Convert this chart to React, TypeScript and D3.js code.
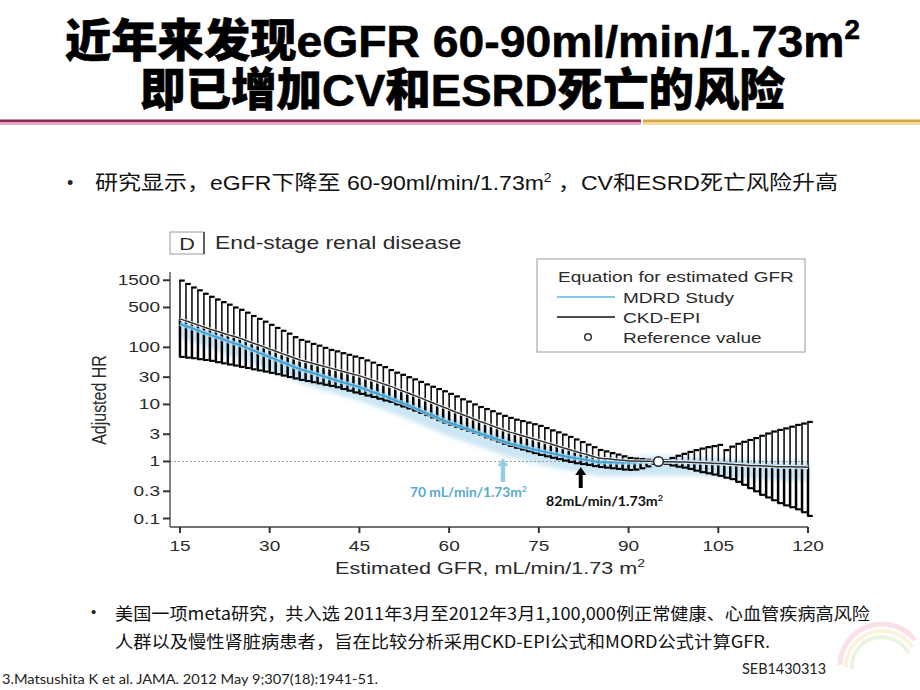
import React from "react";
import * as d3 from "d3";

// ---------- data ----------
const gfrValues = [
  15, 16, 17, 18, 19, 20, 21, 22, 23, 24, 25, 26, 27, 28, 29, 30, 31, 32, 33, 34,
  35, 36, 37, 38, 39, 40, 41, 42, 43, 44, 45, 46, 47, 48, 49, 50, 51, 52, 53, 54,
  55, 56, 57, 58, 59, 60, 61, 62, 63, 64, 65, 66, 67, 68, 69, 70, 71, 72, 73, 74,
  75, 76, 77, 78, 79, 80, 81, 82, 83, 84, 85, 86, 87, 88, 89, 90, 91, 92, 93, 94,
  95, 96, 97, 98, 99, 100, 101, 102, 103, 104, 105, 106, 107, 108, 109, 110, 111,
  112, 113, 114, 115, 116, 117, 118, 119, 120,
];

// CKD-EPI adjusted HR
const hrCkdEpi = [
  316, 291, 268, 247, 227, 209, 194, 180, 167, 156,
  145, 132, 121, 111, 102, 93, 85.5, 78.3, 71.8, 65.8,
  60.3, 56.5, 53.0, 49.7, 46.6, 43.7, 40.9, 38.4, 36.0, 33.7,
  31.6, 29.2, 26.9, 24.8, 22.9, 21.1, 19.3, 17.5, 16.0, 14.6,
  13.3, 12.0, 10.9, 9.9, 9.0, 8.2, 7.4, 6.8, 6.2, 5.6,
  5.1, 4.7, 4.3, 3.9, 3.6, 3.3, 3.09, 2.88, 2.69, 2.51,
  2.34, 2.18, 2.02, 1.88, 1.75, 1.62, 1.51, 1.41, 1.32, 1.23,
  1.15, 1.12, 1.10, 1.07, 1.05, 1.02, 1.02, 1.01, 1.01, 1.0,
  1.0, 0.99, 0.99, 0.98, 0.98, 0.97, 0.96, 0.95, 0.94, 0.93,
  0.92, 0.91, 0.89, 0.88, 0.87, 0.85, 0.84, 0.84, 0.83, 0.82,
  0.81, 0.81, 0.81, 0.8, 0.8, 0.79,
];

// MDRD Study adjusted HR
const hrMdrd = [
  257, 236, 217, 199, 182, 166, 153, 141, 129, 119,
  110, 99.5, 90.4, 82.0, 74.5, 67.6, 61.4, 55.7, 50.6, 45.9,
  41.7, 38.7, 36.0, 33.4, 31.0, 28.8, 26.8, 24.9, 23.1, 21.5,
  20.0, 18.3, 16.8, 15.5, 14.2, 13.0, 11.8, 10.8, 9.8, 8.9,
  8.0, 7.2, 6.6, 5.9, 5.3, 4.81, 4.43, 4.06, 3.74, 3.44,
  3.16, 2.91, 2.68, 2.47, 2.27, 2.09, 1.97, 1.85, 1.75, 1.64,
  1.55, 1.47, 1.40, 1.33, 1.26, 1.20, 1.15, 1.11, 1.06, 1.02,
  0.98, 0.97, 0.97, 0.96, 0.96, 0.955, 0.97, 0.98, 0.99, 0.99,
  1.0, 0.99, 0.99, 0.99, 0.98, 0.98, 0.97, 0.96, 0.95, 0.94,
  0.93, 0.92, 0.9, 0.89, 0.88, 0.86, 0.85, 0.84, 0.83, 0.83,
  0.82, 0.81, 0.81, 0.8, 0.8, 0.8,
];

// 95% CI upper / lower
const ciHigh = [
  1480, 1290, 1120, 1000, 870, 770, 690, 620, 560, 500,
  455, 405, 355, 316, 282, 248, 219, 195, 174, 151,
  135, 126, 115, 107, 98, 90, 85, 79, 74, 69,
  65, 59, 54, 49, 45, 40, 36, 33, 30, 27.5,
  24.8, 22.4, 20.4, 18.6, 17.0, 15.3, 13.8, 12.3, 11.2, 10.0,
  9.0, 8.3, 7.6, 6.9, 6.3, 5.8, 5.4, 5.1, 4.8, 4.5,
  4.2, 3.85, 3.5, 3.24, 2.95, 2.69, 2.43, 2.19, 1.97, 1.78,
  1.59, 1.5, 1.4, 1.32, 1.23, 1.15, 1.12, 1.1, 1.07, 1.035,
  1.0, 1.05, 1.15, 1.26, 1.36, 1.47, 1.58, 1.68, 1.78, 1.86,
  1.95, 1.58, 1.82, 2.04, 2.21, 2.38, 2.57, 2.82, 3.09, 3.35,
  3.57, 3.8, 4.07, 4.37, 4.62, 4.93,
];
const ciLow = [
  68, 66, 64.5, 62, 60, 58, 55, 52.5, 50, 48,
  45.5, 43.6, 41.2, 39.4, 37.6, 35.7, 33.9, 32.0, 30.2, 28.5,
  26.9, 25.7, 24.5, 23.4, 22.1, 21.1, 20.0, 18.6, 17.4, 16.2,
  15.3, 14.3, 13.5, 12.6, 11.7, 11.1, 10.0, 9.2, 8.5, 7.8,
  7.1, 6.5, 5.9, 5.3, 4.8, 4.37, 4.03, 3.72, 3.43, 3.16,
  2.92, 2.66, 2.45, 2.24, 2.04, 1.87, 1.74, 1.62, 1.51, 1.4,
  1.3, 1.23, 1.16, 1.1, 1.035, 0.98, 0.93, 0.9, 0.87, 0.83,
  0.8, 0.78, 0.76, 0.74, 0.72, 0.71, 0.72, 0.76, 0.82, 0.91,
  1.0, 0.91, 0.85, 0.81, 0.78, 0.74, 0.69, 0.65, 0.62, 0.59,
  0.56, 0.52, 0.49, 0.44, 0.39, 0.34, 0.3, 0.26, 0.234, 0.209,
  0.186, 0.17, 0.158, 0.145, 0.129, 0.111,
];

const yTickValues = [0.1, 0.3, 1, 3, 10, 30, 100, 500, 1500];
const yTickLabels = ["0.1", "0.3", "1", "3", "10", "30", "100", "500", "1500"];
const xTickValues = [15, 30, 45, 60, 75, 90, 105, 120];
const referenceGfr = 95;
const referenceHr = 1;
const arrowGfr = [69, 82];
const arrowLabels = ["70 mL/min/1.73m", "82mL/min/1.73m"];

const titleLine1 = "近年来发现eGFR 60-90ml/min/1.73m";
const titleLine2 = "即已增加CV和ESRD死亡的风险";
const bulletTop1 = "研究显示，eGFR下降至 60-90ml/min/1.73m";
const bulletTop2 = " ，CV和ESRD死亡风险升高";
const bulletBottom1 = "美国一项meta研究，共入选 2011年3月至2012年3月1,100,000例正常健康、心血管疾病高风险";
const bulletBottom2 = "人群以及慢性肾脏病患者，旨在比较分析采用CKD-EPI公式和MORD公式计算GFR.";
const footnote = "3.Matsushita K et al. JAMA. 2012 May 9;307(18):1941-51.";
const codeText = "SEB1430313";

const LAT = "'Liberation Sans', Arial, sans-serif";
const MIX = "'Liberation Sans', 'Noto Sans CJK SC', sans-serif";
const CJK = "'Noto Sans CJK SC', sans-serif";
const SX = 1.27;

function SText(props: any) {
  const { x, y, size = 15, anchor = "middle", sx = SX, fill = "#2b2b2b", children } = props;
  return (
    <text
      transform={`translate(${x},${y}) scale(${sx},1)`}
      textAnchor={anchor}
      fontSize={size}
      fill={fill}
      fontFamily={LAT}
    >
      {children}
    </text>
  );
}

export default function App() {
  const W = 920;
  const H = 690;
  const x = d3.scaleLinear().domain([13.33, 120]).range([170, 808]);
  const y = d3.scaleLog().domain([0.071, 2460]).range([527, 268]);
  const x0 = x.range()[0];
  const x1 = x.range()[1];
  const yBottom = y.range()[0];
  const yTop = 272;

  const lineGen = d3
    .line<number>()
    .x((_, i) => x(gfrValues[i]))
    .y((d) => y(d))
    .curve(d3.curveMonotoneX);
  const glowGen = d3
    .area<number>()
    .x((_, i) => x(gfrValues[i]))
    .y0((d) => y(d / 1.75))
    .y1((d) => y(d * 1.25))
    .curve(d3.curveMonotoneX);

  return (
    <svg
      width={W}
      height={H}
      style={{ position: "fixed", left: 0, top: 0, display: "block", background: "#fff" }}
    >
      <defs>
        <filter id="blur" x="-5%" y="-20%" width="110%" height="140%">
          <feGaussianBlur stdDeviation="2.2" />
        </filter>
      </defs>
      <rect x={0} y={0} width={W} height={H} fill="#fff" />

      {/* Title */}
      <text
        x={65}
        y={57}
        fontSize={45}
        fontWeight={900}
        fontFamily={MIX}
        fill="#000"
        stroke="#000"
        strokeWidth={0.6}
        textLength={795}
        lengthAdjust="spacingAndGlyphs"
      >
        {titleLine1}
        <tspan dy={-18} fontSize={27}>2</tspan>
      </text>
      <text
        x={140}
        y={106}
        fontSize={45}
        fontWeight={900}
        fontFamily={MIX}
        fill="#000"
        stroke="#000"
        strokeWidth={0.6}
        textLength={645}
        lengthAdjust="spacingAndGlyphs"
      >
        {titleLine2}
      </text>

      {/* separator */}
      <rect x={0} y={119.5} width={641} height={3} fill="#93275a" />
      <rect x={0} y={122.5} width={641} height={2.5} fill="#e7aac5" />
      <rect x={643} y={119.5} width={277} height={3} fill="#d8a845" />
      <rect x={643} y={122.5} width={277} height={2.5} fill="#f2dc9e" />

      {/* top bullet */}
      <text x={67} y={189} fontSize={18} fontFamily={LAT} fill="#222">•</text>
      <text
        x={95}
        y={190}
        fontSize={20}
        fontFamily={MIX}
        fill="#111"
        textLength={743}
        lengthAdjust="spacingAndGlyphs"
      >
        {bulletTop1}
        <tspan dy={-8} fontSize={12}>2</tspan>
        <tspan dy={8}>{bulletTop2}</tspan>
      </text>

      {/* panel header */}
      <rect x={170} y={232} width={34} height={22} fill="#fff" stroke="#9a9a9a" strokeWidth={1} />
      <line x1={204} y1={232} x2={204} y2={254} stroke="#444" strokeWidth={1.6} />
      <SText x={187} y={250} size={17}>D</SText>
      <SText x={215} y={249} size={18} anchor="start">End-stage renal disease</SText>

      {/* glow around MDRD */}
      <path d={glowGen(hrMdrd) || ""} fill="#c3e2f3" opacity={0.85} filter="url(#blur)" />

      {/* reference dotted line */}
      <line
        x1={x0}
        x2={x1}
        y1={y(referenceHr)}
        y2={y(referenceHr)}
        stroke="#9a9a9a"
        strokeWidth={1}
        strokeDasharray="2,2"
      />

      {/* error bars */}
      {gfrValues.map((g, i) => {
        if (g === referenceGfr) return null;
        const cx = x(g);
        const yh = y(ciHigh[i]);
        const yl = y(ciLow[i]);
        const ym = y(hrCkdEpi[i]);
        return (
          <g key={g}>
            <line x1={cx} x2={cx} y1={yh} y2={ym} stroke="#111" strokeWidth={1.6} />
            <line x1={cx} x2={cx} y1={ym} y2={yl} stroke="#000" strokeWidth={2.5} />
            <line x1={cx - 0.8} x2={cx + 4.8} y1={yh} y2={yh} stroke="#000" strokeWidth={2.2} />
            <line x1={cx - 0.8} x2={cx + 4.8} y1={yl} y2={yl} stroke="#000" strokeWidth={2.1} />
          </g>
        );
      })}

      {/* MDRD line */}
      <path d={lineGen(hrMdrd) || ""} fill="none" stroke="#a9d6ee" strokeWidth={4.5} opacity={0.8} />
      <path d={lineGen(hrMdrd) || ""} fill="none" stroke="#3fa3d6" strokeWidth={1.9} />
      {/* CKD-EPI line */}
      <path d={lineGen(hrCkdEpi) || ""} fill="none" stroke="#fff" strokeWidth={3.2} opacity={0.85} />
      <path d={lineGen(hrCkdEpi) || ""} fill="none" stroke="#333" strokeWidth={1.5} />

      {/* reference value */}
      <circle cx={x(referenceGfr)} cy={y(referenceHr)} r={4.8} fill="#fff" stroke="#222" strokeWidth={1.5} />

      {/* axes */}
      <line x1={x0} x2={x0} y1={yTop} y2={yBottom} stroke="#444" strokeWidth={1.3} />
      <line x1={x0} x2={x1} y1={yBottom} y2={yBottom} stroke="#444" strokeWidth={1.3} />
      {yTickValues.map((v, i) => (
        <g key={v}>
          <line x1={x0 - 7} x2={x0} y1={y(v)} y2={y(v)} stroke="#333" strokeWidth={2} />
          <SText x={x0 - 10} y={y(v) + 5} anchor="end" size={15}>
            {yTickLabels[i]}
          </SText>
        </g>
      ))}
      {xTickValues.map((v) => (
        <g key={v}>
          <line x1={x(v)} x2={x(v)} y1={yBottom} y2={yBottom + 6} stroke="#333" strokeWidth={2} />
          <SText x={x(v)} y={yBottom + 24} size={15}>
            {String(v)}
          </SText>
        </g>
      ))}
      <text
        transform={`translate(106,400) rotate(-90) scale(1,${SX})`}
        textAnchor="middle"
        fontSize={16}
        fill="#2b2b2b"
        fontFamily={LAT}
      >
        Adjusted HR
      </text>
      <SText x={490} y={574} size={17}>
        Estimated GFR, mL/min/1.73 m
        <tspan dy={-7} fontSize={11}>2</tspan>
      </SText>

      {/* legend */}
      <rect x={537} y={259} width={268} height={93} fill="#fff" stroke="#9a9a9a" strokeWidth={1} />
      <SText x={558} y={282} anchor="start" size={15}>Equation for estimated GFR</SText>
      <line x1={557} x2={615} y1={297} y2={297} stroke="#5db6e2" strokeWidth={1.6} />
      <SText x={623} y={303} anchor="start" size={15}>MDRD Study</SText>
      <line x1={557} x2={615} y1={317} y2={317} stroke="#111" strokeWidth={1.6} />
      <SText x={623} y={323} anchor="start" size={15}>CKD-EPI</SText>
      <circle cx={588} cy={337} r={3.3} fill="#fff" stroke="#333" strokeWidth={1.5} />
      <SText x={623} y={343} anchor="start" size={15}>Reference value</SText>

      {/* annotation arrows */}
      {arrowGfr.map((g, i) => {
        const ax = x(g);
        const tip = i === 0 ? y(1.15) : y(0.8);
        const len = i === 0 ? 24 : 21;
        const col = i === 0 ? "#93cde4" : "#000";
        const sw = i === 0 ? 4.5 : 4;
        return (
          <g key={g}>
            <line x1={ax} x2={ax} y1={tip + 7} y2={tip + len} stroke={col} strokeWidth={sw} />
            <path d={`M${ax},${tip} L${ax - 5.5},${tip + 8} L${ax + 5.5},${tip + 8} Z`} fill={col} />
          </g>
        );
      })}
      <text
        x={410}
        y={497}
        fontSize={12.5}
        fontWeight={700}
        fontFamily="Lato, 'Open Sans', sans-serif"
        fill="#5aa9cc"
        textLength={117}
        lengthAdjust="spacingAndGlyphs"
      >
        {arrowLabels[0]}
        <tspan dy={-5} fontSize={8}>2</tspan>
      </text>
      <text
        x={546}
        y={506}
        fontSize={12.5}
        fontWeight={700}
        fontFamily="Lato, 'Open Sans', sans-serif"
        fill="#111"
        textLength={117}
        lengthAdjust="spacingAndGlyphs"
      >
        {arrowLabels[1]}
        <tspan dy={-5} fontSize={8}>2</tspan>
      </text>

      {/* bottom bullets */}
      <text x={91} y={617} fontSize={15} fontFamily={LAT} fill="#222">•</text>
      <text
        x={115}
        y={620}
        fontSize={17}
        fontFamily={CJK}
        fill="#111"
        textLength={755}
        lengthAdjust="spacingAndGlyphs"
      >
        {bulletBottom1}
      </text>
      <text
        x={115}
        y={648}
        fontSize={17}
        fontFamily={CJK}
        fill="#111"
        textLength={655}
        lengthAdjust="spacingAndGlyphs"
      >
        {bulletBottom2}
      </text>

      {/* watermark (faint) */}
      <g opacity={0.35} fill="none">
        <path d="M840,665 A42,42 0 0 1 915,640" stroke="#f2a7bd" strokeWidth={5} />
        <path d="M846,667 A36,36 0 0 1 912,647" stroke="#f6dc9a" strokeWidth={4} />
        <path d="M852,669 A30,30 0 0 1 909,654" stroke="#bfe3b0" strokeWidth={4} />
      </g>

      {/* footer */}
      <text
        x={2}
        y={684}
        fontSize={13}
        fontFamily="Lato, sans-serif"
        fill="#222"
        textLength={376}
        lengthAdjust="spacingAndGlyphs"
      >
        {footnote}
      </text>
      <text
        x={742}
        y={674}
        fontSize={15}
        fontFamily="Lato, sans-serif"
        fill="#222"
        textLength={84}
        lengthAdjust="spacingAndGlyphs"
      >
        {codeText}
      </text>
    </svg>
  );
}
